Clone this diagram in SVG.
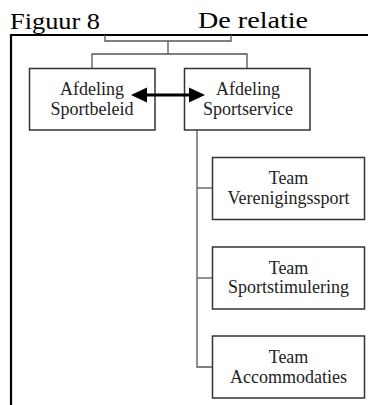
<svg xmlns="http://www.w3.org/2000/svg" width="368" height="405" viewBox="0 0 368 405">
  <style>
    .box { fill: #ffffff; stroke: #333333; stroke-width: 1.5; }
    .wire { fill: none; stroke: #555555; stroke-width: 1.3; }
    .frame { fill: none; stroke: #000000; stroke-width: 2.2; }
    .lbl { font-family: "Liberation Serif", "Times New Roman", serif; font-size: 18px; fill: #222222; text-anchor: middle; }
    .title { font-family: "Liberation Serif", "Times New Roman", serif; font-size: 24px; fill: #000000; }
    .tip { fill: #000000; }
  </style>
  <rect width="368" height="405" fill="#ffffff"/>

  <!-- heading -->
  <text class="title" x="10" y="29" textLength="90" lengthAdjust="spacingAndGlyphs">Figuur 8</text>
  <text class="title" x="198" y="28" textLength="110" lengthAdjust="spacingAndGlyphs">De relatie</text>

  <!-- outer frame -->
  <path class="frame" d="M11 405 V35 H368"/>

  <g id="afdeling-sportbeleid">
    <rect class="box" x="29.5" y="68.5" width="125.5" height="61.5"/>
    <text class="lbl" x="92" y="95">Afdeling</text>
    <text class="lbl" x="92" y="115">Sportbeleid</text>
  </g>

  <g id="afdeling-sportservice">
    <rect class="box" x="184.5" y="68.5" width="125.5" height="61.5"/>
    <text class="lbl" x="248" y="95">Afdeling</text>
    <text class="lbl" x="248" y="115">Sportservice</text>
  </g>

  <g id="team-verenigingssport">
    <rect class="box" x="212.5" y="157.5" width="152" height="62"/>
    <text class="lbl" x="288.5" y="184">Team</text>
    <text class="lbl" x="288.5" y="204">Verenigingssport</text>
  </g>

  <g id="team-sportstimulering">
    <rect class="box" x="212.5" y="247" width="152" height="62"/>
    <text class="lbl" x="288.5" y="273.5">Team</text>
    <text class="lbl" x="288.5" y="293">Sportstimulering</text>
  </g>

  <g id="team-accommodaties">
    <rect class="box" x="212.5" y="336" width="152" height="62"/>
    <text class="lbl" x="288.5" y="362.5">Team</text>
    <text class="lbl" x="288.5" y="382.5">Accommodaties</text>
  </g>

  <!-- connectors drawn last so the double arrow sits on top of both boxes -->
  <g id="connectors">
    <path class="wire" d="M105 35 V41 H231 V35"/>
    <path class="wire" d="M168 41 V54"/>
    <path class="wire" d="M92 68 V54 H247 V68"/>
    <path class="wire" d="M197 130 V367 H212"/>
    <path class="wire" d="M197 188 H212"/>
    <path class="wire" d="M197 278 H212"/>
    <line x1="144" y1="95" x2="192" y2="95" stroke="#000000" stroke-width="3.2"/>
    <polygon class="tip" points="131,95 147,87.5 147,102.5"/>
    <polygon class="tip" points="205,95 189,87.5 189,102.5"/>
  </g>
</svg>
